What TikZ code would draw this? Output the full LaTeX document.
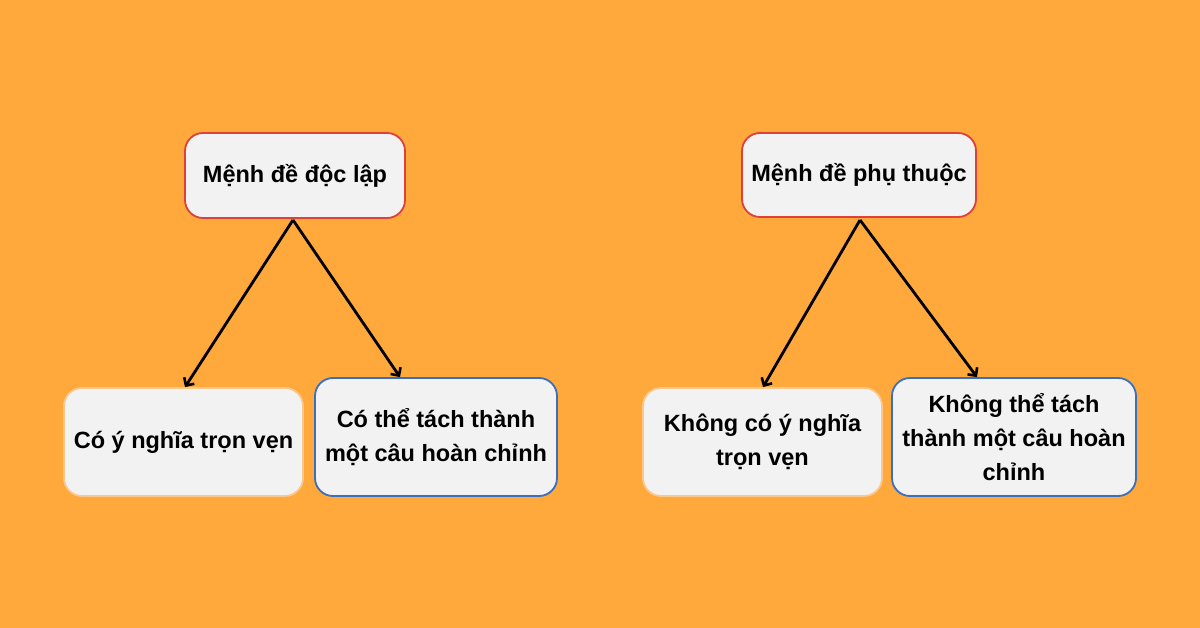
\documentclass[tikz,border=0pt]{standalone}
\usepackage{fontspec}
\setmainfont{Liberation Sans}
\usetikzlibrary{arrows.meta}
\definecolor{bg}{RGB}{255,168,60}
\definecolor{boxfill}{RGB}{242,242,242}
\definecolor{redb}{RGB}{222,64,58}
\definecolor{blueb}{RGB}{60,110,190}
\definecolor{paleb}{RGB}{250,200,140}
\tikzset{
  box/.style={draw, line width=1.8pt, fill=boxfill, rounded corners=18pt, align=center,
    font=\fontsize{23.5}{34}\selectfont\bfseries, inner sep=0pt, text=black},
  topbox/.style={box, draw=redb},
  bluebox/.style={box, draw=blueb},
  palebox/.style={box, draw=paleb},
  link/.style={line width=2.8pt, -{Straight Barb[length=6pt,width=12pt,line width=2.6pt]}}
}
\begin{document}
\begin{tikzpicture}[x=1pt,y=-1pt]
\fill[bg] (0,0) rectangle (1200,628);
\useasboundingbox (0,0) rectangle (1200,628);
\node[topbox, minimum width=220pt, minimum height=85pt] (A) at (295,175.5) {Mệnh đề độc lập};
\node[topbox, minimum width=234pt, minimum height=84pt] (B) at (859,175) {Mệnh đề phụ thuộc};
\node[palebox, minimum width=239pt, minimum height=108pt] (C) at (183.5,442) {Có ý nghĩa trọn vẹn};
\node[bluebox, minimum width=242pt, minimum height=118pt] (D) at (436,437) {Có thể tách thành\\một câu hoàn chỉnh};
\node[palebox, minimum width=239pt, minimum height=108pt] (E) at (762.5,442) {Không có ý nghĩa\\trọn vẹn};
\node[bluebox, minimum width=244pt, minimum height=118pt] (F) at (1014,437) {Không thể tách\\thành một câu hoàn\\chỉnh};
\coordinate (a1) at (293,220);
\coordinate (b1) at (860,220);
\draw[link] (a1) -- (C.north -| 185,0);
\draw[link] (a1) -- (D.north -| 400,0);
\draw[link] (b1) -- (E.north -| 763,0);
\draw[link] (b1) -- (F.north -| 977,0);
\end{tikzpicture}
\end{document}
